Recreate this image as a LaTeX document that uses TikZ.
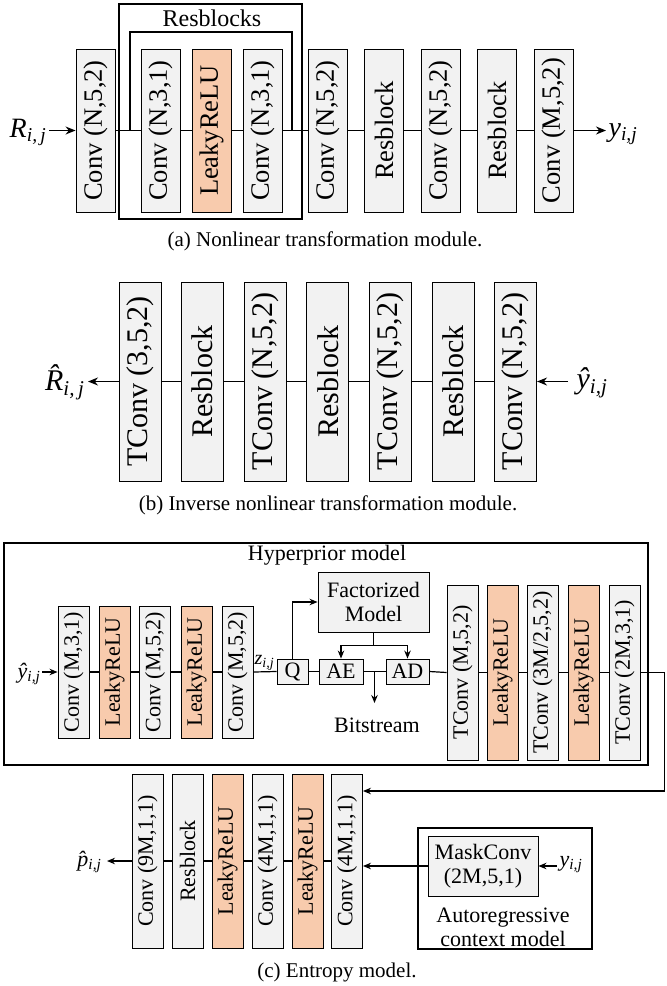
\documentclass[tikz,border=0pt]{standalone}
\usepackage{fontspec}
\setmainfont{Liberation Serif}
\usetikzlibrary{arrows.meta}
\definecolor{boxgray}{HTML}{F2F2F2}
\definecolor{boxorange}{HTML}{F8CBAD}
% italic symbol with italic subscript
\newcommand{\vlbl}[2]{{\itshape #1}\textsubscript{\itshape #2}}
\begin{document}
\begin{tikzpicture}[x=1pt, y=-1pt, line width=1.2pt,
  >={Stealth[length=10pt,width=8pt]},
  arrc/.style={-{Stealth[length=8pt,width=6.5pt]}},
  layer/.style={draw, line width=0.9pt, rotate=90, inner sep=0pt},
  gl/.style={layer, fill=boxgray},
  ol/.style={layer, fill=boxorange},
  fa/.style={font=\fontsize{26.5}{30}\selectfont},
  fb/.style={font=\fontsize{30}{34}\selectfont},
  fc/.style={font=\fontsize{22}{24}\selectfont},
  fcap/.style={font=\fontsize{21}{24}\selectfont},
  sizeA/.style={minimum width=163pt, minimum height=39pt},
  sizeB/.style={minimum width=199pt, minimum height=42pt},
  sizeC/.style={minimum width=132pt, minimum height=31pt},
  sizeD/.style={minimum width=175pt, minimum height=31pt},
  sizeE/.style={minimum width=174pt, minimum height=31pt},
  smallbox/.style={draw, fill=boxgray, line width=0.9pt, inner sep=0pt, fc},
  group/.style={draw, line width=1.2pt, inner sep=0pt},
  mlabel/.style={inner sep=0pt}]
\useasboundingbox (0,0) rectangle (667,986);

% ---------------- (a) nonlinear transformation ----------------
\node[group, minimum width=183pt, minimum height=215pt] (resgrp) at (210.5,111.5) {};
\node[font=\fontsize{24}{28}\selectfont] (reslbl) at (212,18) {Resblocks};

\node[gl,fa,sizeA] (a1) at (95.5,130.5) {Conv (N,5,2)};
\node[gl,fa,sizeA] (a2) at (160.5,130.5) {Conv (N,3,1)};
\node[ol,fa,sizeA] (a3) at (211.5,130.5) {LeakyReLU};
\node[gl,fa,sizeA] (a4) at (262.5,130.5) {Conv (N,3,1)};
\node[gl,fa,sizeA] (a5) at (327.5,130.5) {Conv (N,5,2)};
\node[gl,fa,sizeA] (a6) at (384,130.5) {Resblock};
\node[gl,fa,sizeA] (a7) at (440.5,130.5) {Conv (N,5,2)};
\node[gl,fa,sizeA] (a8) at (497,130.5) {Resblock};
\node[gl,fa,sizeA] (a9) at (553.5,130.5) {Conv (M,5,2)};

\node[mlabel, font=\fontsize{28}{30}\selectfont, anchor=base east, inner sep=2pt] (Rin) at (49,137) {\vlbl{R}{i,\,j}};
\node[mlabel, font=\fontsize{28}{30}\selectfont, anchor=base west, inner sep=2pt] (yout) at (606,136) {\vlbl{y}{i,j}};

\draw[->] (a1.north -| Rin.east) -- (a1.north);
\draw (a1.south) -- (a2.north);
\draw (a2.south) -- (a3.north);
\draw (a3.south) -- (a4.north);
\draw (a4.south) -- (a5.north);
\draw (a5.south) -- (a6.north);
\draw (a6.south) -- (a7.north);
\draw (a7.south) -- (a8.north);
\draw (a8.south) -- (a9.north);
\draw[->] (a9.south) -- (a9.south -| yout.west);
% skip connection over the residual block
\coordinate (skipL) at (130,130.5);
\coordinate (skipR) at (292,130.5);
\draw (skipL) -- ++(0,-98.5) -| (skipR);

\node[fcap] (capa) at (325,241) {(a) Nonlinear transformation module.};

% ---------------- (b) inverse transformation ----------------
\node[gl,fb,sizeB] (b1) at (140,381.5) {TConv (3,5,2)};
\node[gl,fb,sizeB] (b2) at (202.6,381.5) {Resblock};
\node[gl,fb,sizeB] (b3) at (265.2,381.5) {TConv (N,5,2)};
\node[gl,fb,sizeB] (b4) at (327.8,381.5) {Resblock};
\node[gl,fb,sizeB] (b5) at (390.4,381.5) {TConv (N,5,2)};
\node[gl,fb,sizeB] (b6) at (453,381.5) {Resblock};
\node[gl,fb,sizeB] (b7) at (515.6,381.5) {TConv (N,5,2)};

\node[mlabel, font=\fontsize{30}{32}\selectfont, anchor=base east, inner sep=3pt] (Rhat) at (88,390) {\vlbl{\^{R}}{i,\,j}};
\node[mlabel, font=\fontsize{30}{32}\selectfont, anchor=base west, inner sep=8pt] (yhatb) at (568,388) {\vlbl{\^{y}}{i,j}};

\draw[->] (b1.north) -- (b1.north -| Rhat.east);
\draw (b2.north) -- (b1.south);
\draw (b3.north) -- (b2.south);
\draw (b4.north) -- (b3.south);
\draw (b5.north) -- (b4.south);
\draw (b6.north) -- (b5.south);
\draw (b7.north) -- (b6.south);
\draw[->] (b7.south -| yhatb.west) -- (b7.south);

\node[fcap] (capb) at (328,505) {(b) Inverse nonlinear transformation module.};

% ---------------- (c) entropy model ----------------
\node[group, minimum width=644pt, minimum height=222pt] (hyper) at (326,654) {};
\node[fc] (hyplbl) at (327,555) {Hyperprior model};

\node[gl,fc,sizeC] (c1) at (73.5,672) {Conv (M,3,1)};
\node[ol,fc,sizeC] (c2) at (114.5,672) {LeakyReLU};
\node[gl,fc,sizeC] (c3) at (155,672) {Conv (M,5,2)};
\node[ol,fc,sizeC] (c4) at (196.5,672) {LeakyReLU};
\node[gl,fc,sizeC] (c5) at (237.5,672) {Conv (M,5,2)};

\node[smallbox, minimum width=31pt, minimum height=25pt] (Q) at (292.5,671.5) {Q};
\node[smallbox, minimum width=44pt, minimum height=25pt] (AE) at (341,671.5) {AE};
\node[smallbox, minimum width=43pt, minimum height=25pt] (AD) at (407.5,671.5) {AD};
\node[smallbox, minimum width=111pt, minimum height=60pt, align=center] (fact) at (373.5,602) {Factorized\\Model};
\node[fc, inner sep=0pt] (bits) at (377,725) {Bitstream};

\node[gl,fc,sizeD] (d1) at (462.5,672.5) {TConv (M,5,2)};
\node[ol,fc,sizeD] (d2) at (502.5,672.5) {LeakyReLU};
\node[gl,fc,sizeD] (d3) at (542.5,672.5) {TConv (3M/2,5,2)};
\node[ol,fc,sizeD] (d4) at (583.5,672.5) {LeakyReLU};
\node[gl,fc,sizeD] (d5) at (624.5,672.5) {TConv (2M,3,1)};

\node[mlabel, fc, anchor=base east, inner sep=1pt] (yhc) at (42,678) {\vlbl{\^{y}}{i,j}};
\node[mlabel, font=\fontsize{20}{22}\selectfont, anchor=base west] (zl) at (254,664) {\vlbl{z}{i,j}};

\draw[arrc] (c1.north -| yhc.east) -- (c1.north);
\draw (c1.south) -- (c2.north);
\draw (c2.south) -- (c3.north);
\draw (c3.south) -- (c4.north);
\draw (c4.south) -- (c5.north);
\draw (c5.south) -- (Q.west);
\draw (Q.east) -- (AE.west);
\draw (AE.east) -- (AD.west);
\draw (AD.east) -- (d1.north);
\draw (d1.south) -- (d2.north);
\draw (d2.south) -- (d3.north);
\draw (d3.south) -- (d4.north);
\draw (d4.south) -- (d5.north);
\draw[arrc] (Q.north) |- (fact.west);
\draw (fact.south) -- ++(0,13) coordinate (fsplit);
\draw[arrc] (fsplit) -| (AE.north);
\draw[arrc] (fsplit) -| (AD.north);
\coordinate (bs) at (374.5,671.5);
\draw[arrc, shorten >=14pt] (bs) -- (bs |- bits.north);

% context model and parameter network
\node[gl,fc,sizeE] (e1) at (147.5,861) {Conv (9M,1,1)};
\node[gl,fc,sizeE] (e2) at (187.5,861) {Resblock};
\node[ol,fc,sizeE] (e3) at (227.5,861) {LeakyReLU};
\node[gl,fc,sizeE] (e4) at (267.5,861) {Conv (4M,1,1)};
\node[ol,fc,sizeE] (e5) at (307.5,861) {LeakyReLU};
\node[gl,fc,sizeE] (e6) at (347,861) {Conv (4M,1,1)};

\node[group, minimum width=174pt, minimum height=121pt] (auto) at (505,888.5) {};
\node[smallbox, minimum width=110pt, minimum height=60pt, align=center] (mask) at (483,866) {MaskConv\\(2M,5,1)};
\node[fc, align=center, inner sep=0pt] (autotxt) at (503,927) {Autoregressive\\context model};

\node[mlabel, fc, anchor=base east, inner sep=5pt] (ph) at (107,866) {\vlbl{\^{p}}{i,j}};
\node[mlabel, fc, anchor=base west, inner sep=2pt] (yl) at (557,866) {\vlbl{y}{i,j}};

\draw (e6.north) -- (e5.south);
\draw (e5.north) -- (e4.south);
\draw (e4.north) -- (e3.south);
\draw (e3.north) -- (e2.south);
\draw (e2.north) -- (e1.south);
\draw[arrc] (e1.north) -- (e1.north -| ph.east);
\draw[arrc] (d5.south) -- ++(24,0) |- ([yshift=70pt]e6.south);
\draw[arrc] (mask.west) -- (mask.west -| e6.south);
\draw[arrc] (mask.east -| yl.west) -- (mask.east);

\node[fcap] (capc) at (337,972) {(c) Entropy model.};
\end{tikzpicture}
\end{document}
